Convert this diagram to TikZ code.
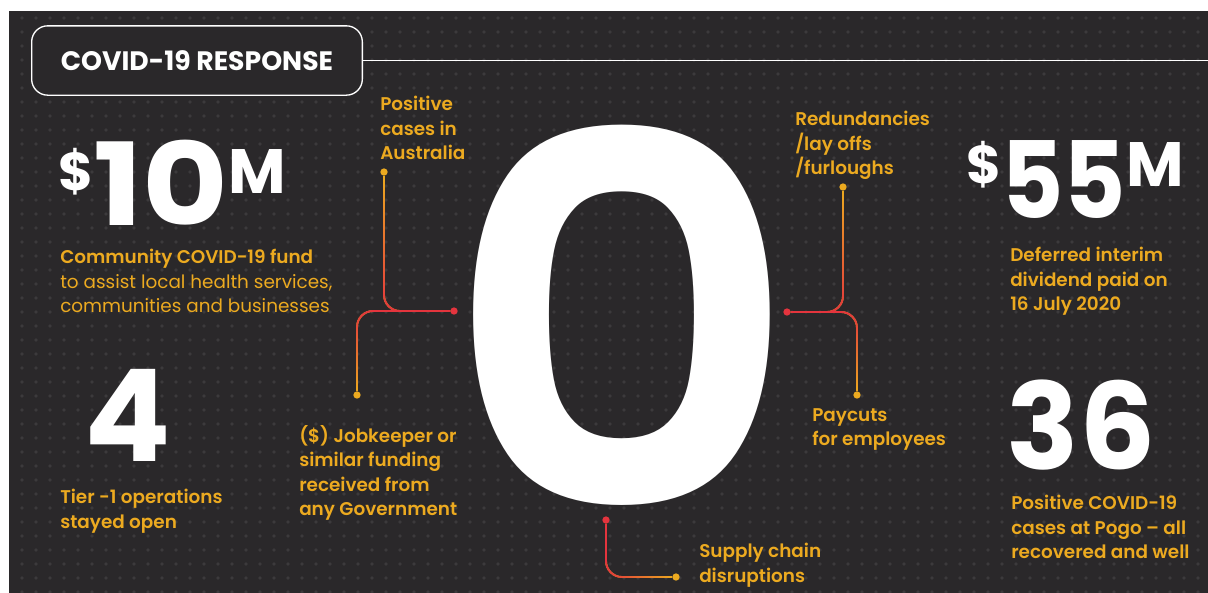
\documentclass[tikz,border=0pt]{standalone}
\usepackage{fontspec}
\setmainfont{Poppins}[BoldFont=* SemiBold]
\newfontfamily\heavyfont{Poppins}[UprightFont=* Bold]
\usetikzlibrary{fadings}
\definecolor{bgc}{RGB}{42,40,42}
\definecolor{dotc}{RGB}{60,58,60}
\definecolor{gold}{RGB}{236,170,32}
\definecolor{redc}{RGB}{228,52,62}
\tikzfading[name=redlow, top color=transparent!100, bottom color=transparent!0]
\tikzfading[name=redhigh, top color=transparent!0, bottom color=transparent!100]
\tikzfading[name=redleft, left color=transparent!0, right color=transparent!100]
\tikzset{%
  note/.style     = {text=gold, align=left, anchor=north west, inner sep=0pt,%
                     font=\fontsize{13.8pt}{18.4pt}\selectfont\bfseries},%
  big/.style      = {text=white, inner sep=0pt},%
  pin/.style      = {circle, fill=gold, inner sep=0pt, minimum size=5.5pt},%
  hub/.style      = {pin, fill=redc},%
  link/.style     = {draw=gold, line width=1.4pt, rounded corners=12pt},%
  titlebox/.style = {draw=white, line width=1pt, fill=bgc, rounded corners=12pt,%
                     minimum width=248pt, minimum height=52pt, text=white,%
                     font=\heavyfont\fontsize{20pt}{24pt}\selectfont}%
}
\newcommand\dollarsup{\raisebox{26pt}{\fontsize{40pt}{40pt}\selectfont\$}}
\newcommand\msup{\raisebox{24pt}{\fontsize{47pt}{47pt}\selectfont M}}

\begin{document}
\begin{tikzpicture}[x=0.75pt,y=-0.75pt]
		\useasboundingbox (0,0) rectangle (1208,593);
		\fill[bgc] (9,11) rectangle (1208,593);
		\begin{scope}
		\clip (9,11) rectangle (1208,593);
		\foreach \i in {0,...,84}
			\foreach \j in {0,...,41}
				\fill[dotc] (22+14*\i,18+14*\j) circle (1.4pt);
		\end{scope}
		% heading
		\node[titlebox] (title) at (197,60.5) {COVID-19 RESPONSE};
		\coordinate (rule) at (1208,60.5);
		\draw[white, line width=1.1pt] (title.east) -- (rule);
		% big figures
		\node[big, anchor=base west, font=\heavyfont\fontsize{86pt}{86pt}\selectfont] (tenm) at (58,225) {\dollarsup\scalebox{1.15}[1]{10}\msup};
		\node[big, anchor=base west, font=\heavyfont\fontsize{80pt}{80pt}\selectfont] (fivem) at (966,218) {\dollarsup\scalebox{0.9}[1]{55}\msup};
		\node[big, font=\heavyfont\fontsize{96pt}{96pt}\selectfont] (four) at (128,415) {4};
		\node[big, font=\fontsize{385pt}{385pt}\selectfont\bfseries] (zero) at (622,316) {\scalebox{1.07}[1]{0}};
		\node[big, font=\heavyfont\fontsize{90pt}{90pt}\selectfont] (thirtysix) at (1081,425) {36};
		% notes
		\node[note] (fund) at (60,249) {Community COVID-19 fund\\ \mdseries to assist local health services,\\ \mdseries communities and businesses};
		\node[note] (tier) at (60,489) {Tier -1 operations\\ stayed open};
		\node[note] (poscases) at (380,96) {Positive\\ cases in\\ Australia};
		\node[note] (jobkeeper) at (299,425) {(\$) Jobkeeper or\\ similar funding\\ received from\\ any Government};
		\node[note] (redund) at (795,111) {Redundancies\\ /lay offs\\ /furloughs};
		\node[note] (paycuts) at (812,408) {Paycuts\\ for employees};
		\node[note] (supply) at (699,543) {Supply chain\\ disruptions};
		\node[note] (deferred) at (1010,247) {Deferred interim\\ dividend paid on\\ 16 July 2020};
		\node[note] (pogo) at (1011,495) {Positive COVID-19\\ cases at Pogo -- all\\ recovered and well};
		% connectors
		\node[hub] (ctrL) at (454,311) {};
		\node[pin] (posdot) at (384,172) {};
		\node[pin] (jobdot) at (357,395) {};
		\node[hub] (ctrR) at (787,312) {};
		\node[pin] (reddot) at (843,187) {};
		\node[pin] (paydot) at (857,395) {};
		\node[hub] (ctrB) at (606,520) {};
		\node[pin] (supdot) at (676,577) {};
		\draw[link, postaction={draw=redc, path fading=redlow}] (posdot) |- (ctrL);
		\draw[link, postaction={draw=redc, path fading=redhigh}] (ctrL) -| (jobdot);
		\draw[link, postaction={draw=redc, path fading=redlow}] (reddot) |- (ctrR);
		\draw[link, postaction={draw=redc, path fading=redhigh}] (ctrR) -| (paydot);
		\draw[link, postaction={draw=redc, path fading=redleft}] (ctrB) |- (supdot);
\end{tikzpicture}
\end{document}
